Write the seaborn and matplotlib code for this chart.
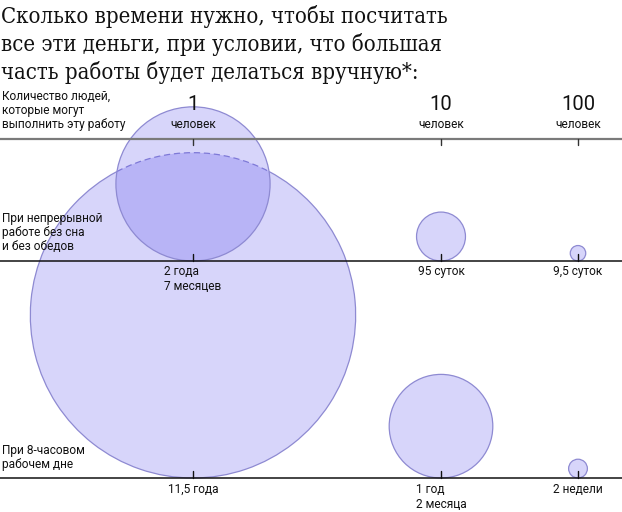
import numpy as np
import pandas as pd
import matplotlib
matplotlib.use("Agg")
import matplotlib.pyplot as plt
from matplotlib.patches import Circle, Arc
import seaborn as sns

# ---- data ----
people = ["1", "10", "100"]
people_unit = ["человек", "человек", "человек"]
continuous_days = [943, 95, 9.5]          # 2 года 7 месяцев, 95 суток, 9,5 суток
workday_days = [4200, 426, 14]            # 11,5 года, 1 год 2 месяца, 2 недели
continuous_labels = ["2 года\n7 месяцев", "95 суток", "9,5 суток"]
workday_labels = ["11,5 года", "1 год\n2 месяца", "2 недели"]
row_labels = ["Количество людей,\nкоторые могут\nвыполнить эту работу",
              "При непрерывной\nработе без сна\nи без обедов",
              "При 8-часовом\nрабочем дне"]
title = ("Сколько времени нужно, чтобы посчитать\n"
         "все эти деньги, при условии, что большая\n"
         "часть работы будет делаться вручную*:")

sns.set_theme(style="white")
plt.rcParams["font.family"] = ["Roboto", "DejaVu Sans"]

W, H = 622, 512
fig = plt.figure(figsize=(W / 100, H / 100), dpi=100)
ax = fig.add_axes([0, 0, 1, 1])
ax.set_xlim(0, W)
ax.set_ylim(H, 0)
ax.set_aspect("equal")
ax.axis("off")

col_x = [193, 441, 578]
line_top, line_mid, line_bot = 139, 261, 478
k = 2.51  # px per sqrt(day)

fill = (70 / 255, 60 / 255, 235 / 255, 0.21)
edge = "#8e8ad2"

def draw_row(days, base):
    circles = []
    for x, d in zip(col_x, days):
        r = k * np.sqrt(d)
        circles.append((x, base - r, r))
    return circles

c_cont = draw_row(continuous_days, line_mid)
c_work = draw_row(workday_days, line_bot)

# big circle (first of workday row) with dashed arc inside small circle
bx, by, br = c_work[0]
sx, sy, sr = c_cont[0]
ax.add_patch(Circle((bx, by), br, facecolor=fill, edgecolor="none", zorder=2))
yi = ((by ** 2 - sy ** 2) - (br ** 2 - sr ** 2)) / (2 * (by - sy))
dx = np.sqrt(max(br ** 2 - (yi - by) ** 2, 0))
a_r = np.degrees(np.arctan2(yi - by, dx))
a_l = np.degrees(np.arctan2(yi - by, -dx))
ax.add_patch(Arc((bx, by), 2 * br, 2 * br, theta1=a_r, theta2=a_l + 360,
                 color=edge, lw=0.9, zorder=3))
ax.add_patch(Arc((bx, by), 2 * br, 2 * br, theta1=a_l, theta2=a_r,
                 color=edge, lw=0.9, ls=(0, (5, 3)), zorder=3))

for (x, y, r) in c_work[1:] + c_cont:
    ax.add_patch(Circle((x, y), r, facecolor=fill, edgecolor=edge, lw=0.9, zorder=3))

# lines
ax.plot([0, W], [line_top, line_top], color="#7a7a7a", lw=1.6, zorder=5)
ax.plot([0, W], [line_mid, line_mid], color="#111111", lw=1.1, zorder=5)
ax.plot([0, W], [line_bot, line_bot], color="#111111", lw=1.1, zorder=5)
for x in col_x:
    ax.plot([x, x], [line_top, line_top + 6], color="#333333", lw=1, zorder=5)
    ax.plot([x, x], [line_mid - 7, line_mid], color="#111111", lw=1, zorder=5)
    ax.plot([x, x], [line_bot - 7, line_bot], color="#111111", lw=1, zorder=5)

# title
ax.text(1, 5, title, family=["DejaVu Serif"], fontstretch="condensed", fontsize=15.8,
        va="top", ha="left", linespacing=1.27, color="#111111")

# column headers
for x, p, u in zip(col_x, people, people_unit):
    ax.text(x, 105, p, fontsize=14.5, ha="center", va="center", color="#111111")
    ax.text(x, 125, u, fontsize=8.6, ha="center", va="center", color="#111111")

# row labels
ax.text(2, 90, row_labels[0], fontsize=8.6, ha="left", va="top", linespacing=1.1, color="#111111", zorder=6)
ax.text(2, 212, row_labels[1], fontsize=8.6, ha="left", va="top", linespacing=1.1, color="#111111", zorder=6)
ax.text(2, 444, row_labels[2], fontsize=8.6, ha="left", va="top", linespacing=1.1, color="#111111", zorder=6)

# value labels
for x, lab in zip(col_x, continuous_labels):
    ax.text(x, 265, lab, fontsize=8.6, ha="center", va="top", multialignment="left",
            linespacing=1.15, color="#111111")
for x, lab in zip(col_x, workday_labels):
    ax.text(x, 483, lab, fontsize=8.6, ha="center", va="top", multialignment="left",
            linespacing=1.15, color="#111111")

fig.savefig("out.png", dpi=100)
